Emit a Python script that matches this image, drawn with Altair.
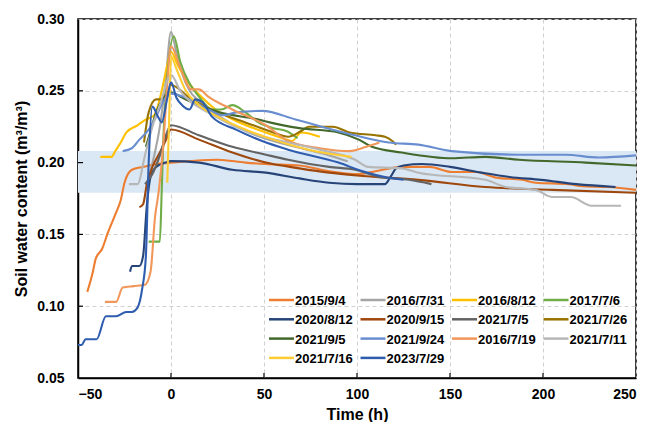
import altair as alt
import pandas as pd

SERIES = ["2015/9/4", "2016/7/31", "2016/8/12", "2017/7/6",
          "2020/8/12", "2020/9/15", "2021/7/5", "2021/7/26",
          "2021/9/5", "2021/9/24", "2016/7/19", "2021/7/11",
          "2021/7/16", "2023/7/29"]
COLORS = ["#ED7D31", "#A5A5A5", "#FFC000", "#70AD47",
          "#264478", "#9E480E", "#636363", "#997300",
          "#43682B", "#698ED0", "#F1975A", "#B7B7B7",
          "#FFCD33", "#2E5CAE"]

T_2015_9_4 = [-45, -42, -40.5, -37, -34, -29.6, -27, -25, -21, -15, -7.5, 0, 10, 25, 40, 51, 69, 85, 101, 110, 124, 139, 151, 164, 175, 189, 196, 214, 221, 235, 250]
V_2015_9_4 = [0.110, 0.124, 0.133, 0.140, 0.151, 0.165, 0.174, 0.186, 0.195, 0.197, 0.199, 0.200, 0.201, 0.202, 0.200, 0.199, 0.198, 0.194, 0.192, 0.194, 0.197, 0.197, 0.1935, 0.1935, 0.1895, 0.188, 0.186, 0.185, 0.1835, 0.183, 0.181]

T_2016_7_31 = [-12, -9, -6, -3, 0, 3, 6, 10, 15, 25, 40, 55, 70, 85, 95]
V_2016_7_31 = [0.190, 0.205, 0.225, 0.255, 0.291, 0.276, 0.262, 0.250, 0.243, 0.233, 0.222, 0.215, 0.210, 0.205, 0.201]

T_2016_8_12 = [-38, -32, -30, -27, -24, -18, -13.5, -9, -5, -2, 0, 4, 11, 17, 24, 35, 51, 60, 65, 70, 80]
V_2016_8_12 = [0.204, 0.204, 0.208, 0.214, 0.221, 0.226, 0.230, 0.233, 0.250, 0.268, 0.277, 0.267, 0.253, 0.245, 0.237, 0.229, 0.221, 0.217, 0.215, 0.221, 0.218]

T_2017_7_6 = [-12, -6, -5, -4, -2, 1.5, 5, 10, 15, 22, 27, 33, 40, 47, 55, 62, 68]
V_2017_7_6 = [0.145, 0.145, 0.180, 0.220, 0.260, 0.288, 0.270, 0.255, 0.246, 0.237, 0.237, 0.240, 0.235, 0.228, 0.224, 0.222, 0.217]

T_2020_8_12 = [-22, -21, -17, -15, -13, -11, -8, -3, 0, 15, 33, 51, 69, 85, 100, 115, 118, 121, 125, 135, 150, 167, 182, 199, 218, 239]
V_2020_8_12 = [0.124, 0.128, 0.128, 0.135, 0.170, 0.190, 0.197, 0.200, 0.201, 0.200, 0.195, 0.193, 0.189, 0.186, 0.185, 0.185, 0.190, 0.196, 0.198, 0.199, 0.197, 0.193, 0.190, 0.188, 0.185, 0.183]

T_2020_9_15 = [-17, -15, -13, -10, -6, -3, 0, 15, 33, 51, 69, 85, 100, 133, 169, 205, 250]
V_2020_9_15 = [0.169, 0.171, 0.185, 0.197, 0.207, 0.215, 0.223, 0.216, 0.207, 0.200, 0.196, 0.193, 0.191, 0.188, 0.183, 0.181, 0.179]

T_2021_7_5 = [-14, -10, -6, -3, 0, 15, 33, 51, 63, 85, 99, 112, 128, 140]
V_2021_7_5 = [0.185, 0.192, 0.205, 0.218, 0.226, 0.219, 0.211, 0.2055, 0.202, 0.197, 0.195, 0.190, 0.188, 0.185]

T_2021_7_26 = [-14.5, -12, -8, -3, 0, 10, 25, 40, 55, 63, 70, 74, 87, 96, 110, 115, 119, 121]
V_2021_7_26 = [0.214, 0.235, 0.244, 0.244, 0.254, 0.245, 0.235, 0.228, 0.221, 0.218, 0.222, 0.225, 0.225, 0.221, 0.219, 0.218, 0.215, 0.2125]

T_2021_9_5 = [-13.5, -11, -8, -4, -1, 8, 17, 26, 47, 53, 69, 90, 101, 108, 124, 151, 169, 187, 223, 250]
V_2021_9_5 = [0.211, 0.222, 0.235, 0.245, 0.249, 0.244, 0.239, 0.235, 0.230, 0.228, 0.224, 0.221, 0.216, 0.211, 0.207, 0.203, 0.204, 0.202, 0.200, 0.198]

T_2021_9_24 = [-26, -21, -17, -12, -8, -4, 0, 10, 20, 28, 35, 49, 67, 81, 99, 117, 133, 151, 187, 212, 230, 250]
V_2021_9_24 = [0.208, 0.210, 0.216, 0.223, 0.232, 0.243, 0.248, 0.244, 0.237, 0.233, 0.235, 0.236, 0.230, 0.225, 0.219, 0.214, 0.2125, 0.208, 0.2055, 0.2055, 0.2035, 0.205]

T_2016_7_19 = [-35.5, -29.5, -26, -20, -14, -11, -8.6, -6.5, -4, -2, 0, 5, 11, 15, 20, 33, 51, 63, 80, 96, 105, 112]
V_2016_7_19 = [0.103, 0.103, 0.113, 0.114, 0.115, 0.124, 0.162, 0.181, 0.215, 0.255, 0.281, 0.266, 0.251, 0.251, 0.246, 0.237, 0.226, 0.215, 0.210, 0.208, 0.211, 0.214]

T_2021_7_11 = [-22.6, -18, -14, -10, -6, 0, 5, 10, 20, 33, 50, 63, 80, 99, 106, 124, 133, 169, 180, 196, 205, 215, 226, 242]
V_2021_7_11 = [0.185, 0.185, 0.205, 0.225, 0.240, 0.261, 0.250, 0.243, 0.235, 0.226, 0.218, 0.214, 0.209, 0.202, 0.197, 0.196, 0.193, 0.188, 0.183, 0.181, 0.176, 0.176, 0.170, 0.170]

T_2021_7_16 = [-2, -1, 0, 3, 8, 15, 25, 40, 55, 74, 97]
V_2021_7_16 = [0.186, 0.230, 0.274, 0.265, 0.250, 0.240, 0.232, 0.223, 0.216, 0.209, 0.204]

T_2023_7_29 = [-50, -48, -46, -40, -35, -29.6, -24, -21, -18, -15.5, -13.5, -12, -10, -7, -5, -2, 0, 3, 6, 10, 13, 17, 22, 35, 49, 63, 90, 103, 115, 125]
V_2023_7_29 = [0.073, 0.073, 0.077, 0.077, 0.093, 0.093, 0.096, 0.096, 0.099, 0.112, 0.135, 0.200, 0.239, 0.232, 0.228, 0.245, 0.256, 0.245, 0.240, 0.237, 0.244, 0.242, 0.232, 0.223, 0.215, 0.209, 0.200, 0.194, 0.190, 0.188]

BAND = [0.179, 0.208]
X_TICKS = [-50, 0, 50, 100, 150, 200, 250]
Y_TICKS = [0.05, 0.10, 0.15, 0.20, 0.25, 0.30]

series_data = [
    (T_2015_9_4, V_2015_9_4), (T_2016_7_31, V_2016_7_31), (T_2016_8_12, V_2016_8_12),
    (T_2017_7_6, V_2017_7_6), (T_2020_8_12, V_2020_8_12), (T_2020_9_15, V_2020_9_15),
    (T_2021_7_5, V_2021_7_5), (T_2021_7_26, V_2021_7_26), (T_2021_9_5, V_2021_9_5),
    (T_2021_9_24, V_2021_9_24), (T_2016_7_19, V_2016_7_19), (T_2021_7_11, V_2021_7_11),
    (T_2021_7_16, V_2021_7_16), (T_2023_7_29, V_2023_7_29),
]
rows = []
for name, (ts, vs) in zip(SERIES, series_data):
    for i, (t, v) in enumerate(zip(ts, vs)):
        rows.append({"series": name, "t": t, "v": v, "i": i})
df = pd.DataFrame(rows)

W, H = 558, 359
FONT = "Liberation Sans"

xscale = alt.Scale(domain=[-50, 250], nice=False, zero=False)
yscale = alt.Scale(domain=[0.05, 0.30], nice=False, zero=False)
cscale = alt.Scale(domain=SERIES, range=COLORS)

band = alt.Chart(pd.DataFrame({"lo": [BAND[0]], "hi": [BAND[1]]})).mark_rect(
    color="#DAE7F4"
).encode(
    x=alt.value(0), x2=alt.value(W),
    y=alt.Y("lo:Q", scale=yscale), y2="hi:Q",
)

lines = alt.Chart(df).mark_line(strokeWidth=2.1, interpolate="monotone").encode(
    x=alt.X("t:Q", scale=xscale,
            axis=alt.Axis(values=X_TICKS, title="Time (h)", grid=True,
                          labelPadding=9, titlePadding=5)),
    y=alt.Y("v:Q", scale=yscale,
            axis=alt.Axis(values=Y_TICKS, format=".2f",
                          title="Soil water content (m³/m³)",
                          labelPadding=14, titlePadding=7)),
    color=alt.Color("series:N", scale=cscale, legend=None),
    order="i:Q",
    detail="series:N",
)

# manual legend: 4 columns, filled row by row
leg = pd.DataFrame({"series": SERIES, "k": list(range(len(SERIES)))})
leg["col"] = leg["k"] % 4
leg["row"] = leg["k"] // 4
LX0, LY0, CW, RH, SW = 191, 281, 91.5, 19.3, 25
leg["x1"] = LX0 + leg["col"] * CW
leg["x2"] = leg["x1"] + SW
leg["xt"] = leg["x2"] + 1
leg["y"] = LY0 + leg["row"] * RH

leg_sym = alt.Chart(leg).mark_rule(strokeWidth=2.5).encode(
    x=alt.X("x1:Q", scale=None), x2="x2:Q",
    y=alt.Y("y:Q", scale=None),
    color=alt.Color("series:N", scale=cscale, legend=None),
)
leg_txt = alt.Chart(leg).mark_text(
    align="left", baseline="middle", font=FONT, fontWeight="bold",
    fontSize=13, color="black", dy=1
).encode(
    x=alt.X("xt:Q", scale=None), y=alt.Y("y:Q", scale=None), text="series:N"
)

xt = alt.Chart(pd.DataFrame({"t": X_TICKS[1:-1]})).mark_rule(color="black", strokeWidth=1.2).encode(
    x=alt.X("t:Q", scale=xscale), y=alt.value(H), y2=alt.value(H - 5)
)
yt = alt.Chart(pd.DataFrame({"v": Y_TICKS[1:-1]})).mark_rule(color="black", strokeWidth=1.2).encode(
    y=alt.Y("v:Q", scale=yscale), x=alt.value(0), x2=alt.value(5)
)

chart = alt.layer(band, lines, xt, yt, leg_sym, leg_txt).properties(
    width=W, height=H,
    autosize=alt.AutoSizeParams(type="none"),
    padding={"left": 78, "top": 19, "right": 11, "bottom": 44},
).configure_view(
    stroke="black", strokeWidth=1.5
).configure_axis(
    labelFont=FONT, labelFontWeight="bold", labelFontSize=14, labelColor="black",
    titleFont=FONT, titleFontWeight="bold", titleFontSize=16, titleColor="black",
    domainColor="black", domainWidth=1.5, ticks=False,
    gridColor="#D0D0D0", gridDash=[4, 3], gridWidth=1,
)

chart.save("out.html", embed_options={"renderer": "svg", "actions": False})
